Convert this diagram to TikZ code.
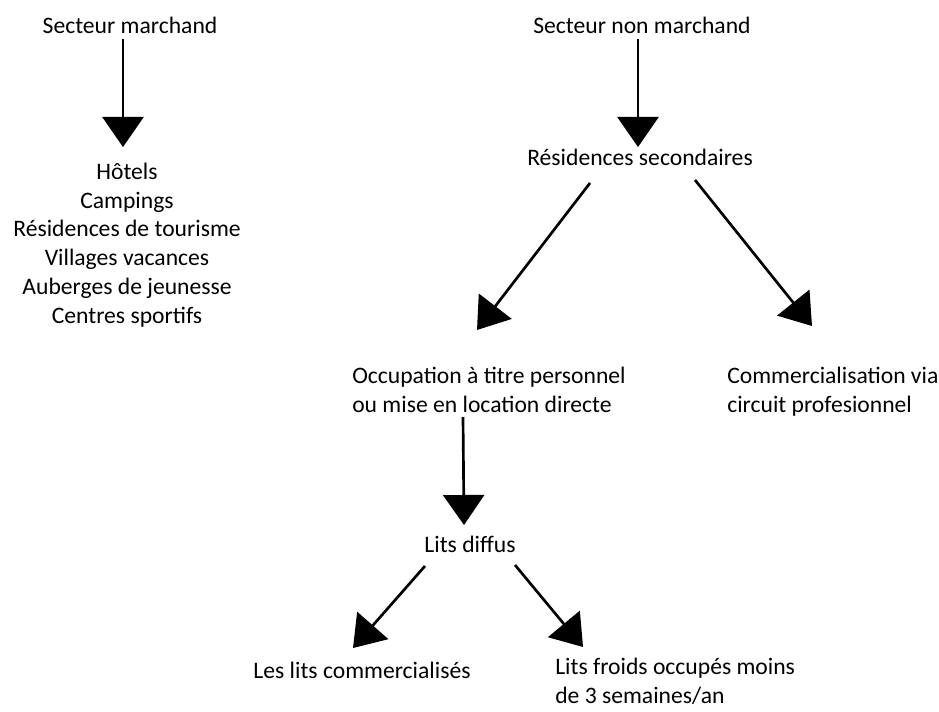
\documentclass[tikz,border=0pt]{standalone}
\usepackage{fontspec}
\setmainfont{Carlito}
\usepackage{tikz}
\usetikzlibrary{arrows.meta}
\usetikzlibrary{calc}
\tikzset{
  texte/.style = {inner sep=0pt, font=\fontsize{16.8}{20.4}\selectfont},
  txt_c/.style = {texte, align=center, anchor=base},% texte centre
  txt_g/.style = {texte, align=left, anchor=base west},% texte a gauche
  fleche/.style = {-{Triangle[length=0.75cm, width=1.025cm]},
    line width=1.9pt}% grosse fleche noire
}
\begin{document}
\begin{tikzpicture}[x=0.025cm, y=-0.025cm]
\useasboundingbox[fill=white] (0,0) rectangle (939,711);
% secteur marchand
\node [txt_c] (sm) at (130,33) {Secteur marchand};
\node [txt_c] (liste) at (127,323)
  {H\^otels\\Campings\\R\'esidences de tourisme\\Villages vacances\\
   Auberges de jeunesse\\Centres sportifs};
% secteur non marchand
\node [txt_c] (snm) at (642,33) {Secteur non marchand};
\node [txt_c] (rs) at (640,165) {R\'esidences secondaires};
\node [txt_g] (occ) at (352,412)
  {Occupation \`a titre personnel\\ou mise en location directe};
\node [txt_g] (com) at (727,412)
  {Commercialisation via\\circuit profesionnel};
\node [txt_c] (ld) at (470,552) {Lits diffus};
\node [txt_c] (lc) at (362,678) {Les lits commercialis\'es};
\node [txt_g] (lf) at (555,703)
  {Lits froids occup\'es moins\\de 3 semaines/an};

\draw [fleche] ($(sm.base)+(-7,6)$) -- ($(liste.base)+(-4,-176)$);
\draw [fleche] ($(snm.base)+(-4,6)$) -- ($(rs.base)+(-2,-18)$);
\draw [fleche] ($(rs.base)+(-50,18)$) -- ($(occ.base west)+(125,-82)$);
\draw [fleche] ($(rs.base)+(55,15)$) -- ($(com.base west)+(85,-86)$);
\draw [fleche] ($(occ.base west)+(111,5)$) -- ($(ld.base)+(-6,-27)$);
\draw [fleche] ($(ld.base)+(-45,14)$) -- ($(lc.base)+(-9,-30)$);
\draw [fleche] ($(ld.base)+(45,13)$) -- ($(lf.base west)+(28,-56)$);
\end{tikzpicture}
\end{document}
